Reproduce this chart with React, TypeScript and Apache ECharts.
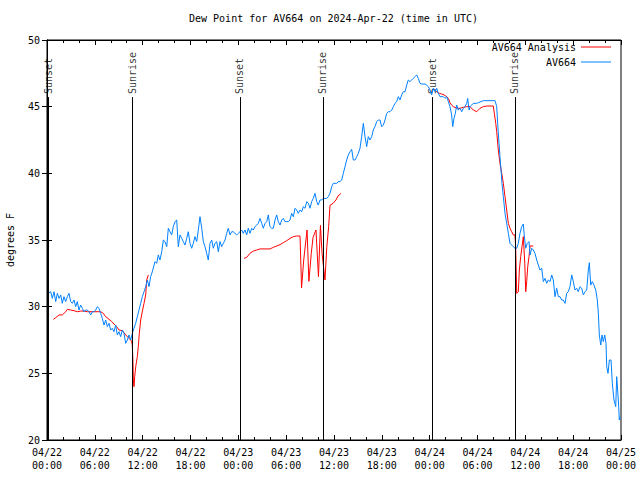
import React, { useEffect, useRef } from "react";
import * as echarts from "echarts";

// Hours since 2024-04-22 00:00 UTC
const blueHours = [
  0.13, 0.46, 0.67, 0.88, 1.09, 1.3, 1.51, 1.72, 1.92, 2.13, 2.34, 2.55, 2.76, 2.97, 3.18, 3.39, 3.6, 3.8, 4.01, 4.22,
  4.43, 4.64, 4.85, 5.06, 5.27, 5.48, 5.69, 5.9, 6.1, 6.31, 6.52, 6.73, 6.94, 7.15, 7.36, 7.57, 7.78, 7.99, 8.2, 8.4,
  8.61, 8.82, 9.03, 9.24, 9.45, 9.66, 9.87, 10.08, 10.29, 10.5, 10.7, 10.91, 11.12, 11.33, 11.54, 11.75, 11.96, 12.17, 12.38, 12.59,
  12.8, 13.0, 13.2, 13.55, 13.76, 13.96, 14.17, 14.39, 14.59, 14.8, 15.02, 15.22, 15.43, 15.64, 15.84, 16.06, 16.27, 16.47, 16.68, 16.9,
  17.1, 17.31, 17.52, 17.72, 17.94, 18.15, 18.35, 18.56, 18.78, 18.98, 19.19, 19.41, 19.61, 19.82, 20.03, 20.23, 20.45, 20.66, 20.86, 21.07,
  21.29, 21.49, 21.7, 21.91, 22.12, 22.33, 22.54, 22.74, 22.96, 23.17, 23.37, 23.58, 23.8, 24.0, 24.21, 24.42, 24.62, 24.84, 25.05, 25.25,
  25.46, 25.68, 25.88, 26.09, 26.3, 26.5, 26.72, 26.93, 27.13, 27.35, 27.56, 27.76, 27.97, 28.19, 28.39, 28.6, 28.81, 29.01, 29.23, 29.44,
  29.64, 29.85, 30.07, 30.27, 30.48, 30.69, 30.9, 31.11, 31.32, 31.52, 31.74, 31.95, 32.15, 32.36, 32.58, 32.78, 32.99, 33.2, 33.4, 33.62,
  33.83, 34.03, 34.24, 34.46, 34.66, 34.87, 35.09, 35.29, 35.5, 35.71, 35.91, 36.13, 36.34, 36.54, 36.75, 36.97, 37.17, 37.38, 37.59, 37.79,
  38.01, 38.22, 38.42, 38.63, 38.85, 39.05, 39.26, 39.47, 39.68, 39.89, 40.1, 40.3, 40.52, 40.73, 40.93, 41.14, 41.36, 41.56, 41.77, 41.98,
  42.19, 42.4, 42.61, 42.81, 43.03, 43.24, 43.44, 43.65, 43.87, 44.07, 44.28, 44.49, 44.69, 44.91, 45.12, 45.32, 45.53, 45.75, 45.95, 46.16,
  46.37, 46.57, 46.79, 47.0, 47.42, 47.63, 47.83, 48.04, 48.25, 48.45, 48.67, 48.88, 49.08, 49.3, 49.71, 49.92, 50.14, 50.34, 50.55, 50.76,
  50.89, 51.05, 51.22, 51.39, 51.59, 51.81, 52.02, 52.22, 52.43, 52.65, 52.77, 52.94, 53.06, 53.27, 53.47, 53.9, 54.1, 54.73, 56.2, 56.41,
  56.53, 56.7, 56.82, 56.95, 57.07, 57.24, 57.45, 57.66, 57.87, 58.08, 58.29, 58.49, 58.7, 58.92, 59.12, 59.33, 59.54, 59.75, 59.87, 60.05,
  60.25, 60.46, 60.59, 60.8, 61.0, 61.21, 61.43, 61.63, 61.84, 62.05, 62.26, 62.47, 62.68, 62.88, 63.1, 63.31, 63.51, 63.72, 63.93, 64.14,
  64.35, 64.56, 64.76, 64.98, 65.19, 65.39, 65.6, 65.82, 66.02, 66.23, 66.44, 66.64, 66.86, 67.07, 67.28, 67.49, 67.7, 67.9, 68.03, 68.2,
  68.4, 68.61, 68.83, 69.03, 69.16, 69.28, 69.46, 69.62, 69.78, 69.96, 70.12, 70.21, 70.37, 70.54, 70.75, 70.91, 71.12, 71.34, 71.46, 71.58,
  71.71, 71.79, 71.91,
];
const blueValues = [
  31.0, 31.12, 30.62, 31.12, 30.38, 31.0, 30.62, 30.88, 30.25, 30.75, 30.38, 30.75, 31.0, 30.38, 30.25, 30.5, 30.0, 30.38, 29.75, 30.12,
  29.88, 29.62, 29.75, 29.75, 29.62, 29.38, 29.62, 29.62, 29.75, 30.0, 29.88, 29.5, 29.12, 28.62, 29.0, 28.5, 28.75, 28.25, 28.38, 28.12,
  28.62, 27.88, 28.12, 27.75, 28.25, 28.0, 27.25, 27.5, 27.88, 27.5, 28.0, 28.38, 28.75, 29.25, 29.75, 30.25, 30.75, 31.12, 31.5, 32.0,
  31.5, 32.25, 32.6, 33.38, 33.25, 33.88, 33.5, 34.12, 35.0, 34.88, 34.5, 35.88, 35.62, 35.38, 36.0, 36.38, 36.5, 34.5, 35.38, 35.12,
  34.88, 34.62, 35.12, 35.62, 34.75, 34.38, 34.75, 35.25, 34.88, 35.75, 36.75, 35.88, 34.88, 34.5, 34.0, 33.5, 34.75, 35.0, 34.38, 34.75,
  34.88, 34.12, 34.88, 34.5, 34.75, 35.0, 35.5, 35.88, 35.38, 35.62, 35.62, 35.5, 35.38, 35.5, 35.62, 35.75, 35.5, 35.75, 35.38, 35.88,
  35.5, 35.88, 35.75, 36.0, 36.12, 36.25, 36.62, 36.25, 35.88, 36.25, 36.38, 36.88, 36.0, 35.88, 35.88, 36.5, 36.88, 36.38, 36.12, 36.5,
  36.62, 36.38, 36.38, 36.38, 36.5, 37.0, 36.75, 37.38, 37.25, 37.0, 37.25, 37.12, 37.5, 37.38, 37.88, 37.75, 37.38, 37.88, 38.12, 38.5,
  37.88, 37.62, 38.0, 38.0, 38.12, 38.12, 38.12, 38.25, 38.5, 39.0, 39.25, 39.25, 39.25, 39.38, 39.38, 39.5, 40.0, 40.5, 41.0, 41.38,
  41.62, 41.8, 41.0, 41.0, 41.25, 41.5, 41.88, 42.75, 43.75, 42.75, 42.0, 42.75, 42.5, 42.75, 43.25, 43.5, 43.88, 44.0, 44.0, 43.5,
  43.62, 44.0, 44.5, 44.62, 44.62, 44.75, 45.0, 45.25, 45.38, 45.75, 45.5, 45.88, 46.12, 46.12, 46.62, 47.0, 46.88, 47.0, 47.12, 47.25,
  47.38, 47.12, 46.75, 46.7, 46.7, 46.62, 46.5, 46.25, 45.88, 46.38, 46.12, 46.38, 46.0, 45.75, 45.75, 45.62, 45.75, 45.38, 45.0, 44.38,
  43.5, 44.12, 44.5, 45.12, 44.75, 44.88, 44.62, 44.88, 45.0, 45.25, 45.62, 44.75, 45.0, 45.12, 45.25, 45.25, 45.3, 45.45, 45.45, 45.0,
  43.75, 42.25, 41.25, 40.25, 39.25, 38.25, 37.0, 36.25, 35.5, 34.75, 34.62, 34.5, 34.38, 34.38, 34.75, 35.5, 36.0, 36.2, 35.3, 34.38,
  34.75, 34.88, 33.88, 34.38, 34.25, 34.0, 33.5, 33.12, 32.75, 32.88, 31.88, 32.12, 31.75, 32.0, 31.88, 32.38, 32.0, 30.75, 31.38, 30.75,
  30.75, 30.5, 30.5, 30.25, 31.0, 31.12, 31.5, 32.38, 31.88, 31.25, 31.38, 31.12, 31.5, 31.38, 30.88, 31.12, 31.25, 32.75, 33.3, 31.62,
  31.88, 31.62, 31.25, 30.5, 29.5, 27.88, 27.12, 27.88, 27.38, 27.88, 27.25, 25.5, 25.0, 26.0, 26.0, 24.25, 23.0, 22.5, 24.75, 23.75,
  22.5, 21.5, 21.75,
];

// null marks a gap in the analysis line
const redHours = [
  0.79, 1.09, 1.51, 1.92, 2.35, 2.55, 2.97, 3.39, 3.8, 4.23, 4.64, 5.06, 5.9, 6.74, 7.06, 7.36, 7.78, 8.12, 8.4, 8.74,
  9.03, 9.45, 9.66, 9.87, 10.07, 10.29, 10.5, 10.62, 10.7, 10.79, 10.83, 10.91, 11.0, 11.13, 11.33, 11.45, 11.58, 11.75, 11.95, 12.17,
  12.38, 12.51, 12.71, 18.0,
  24.71, 25.05, 25.46, 25.88, 26.3, 26.72, 27.97, 28.39, 28.81, 29.23, 29.64, 30.07, 30.48, 30.9, 31.32, 31.74, 31.93, 32.2, 32.62, 32.85,
  33.15, 33.37, 33.74, 34.05, 34.3, 34.5, 34.87, 35.1, 35.33, 35.5, 35.88, 36.25, 36.5, 36.88, 42.0,
  48.54, 48.88, 49.21, 49.51, 49.8, 50.14, 50.34, 50.55, 50.76, 50.97, 51.18, 51.39, 51.81, 52.22, 52.65, 53.06, 53.47, 53.9, 54.1, 54.31,
  54.73, 55.16, 55.98, 56.11, 56.29, 56.41, 56.61, 56.82, 57.04, 57.24, 57.45, 57.66, 57.87, 58.08, 58.29, 58.49, 58.7, 58.79, 58.92, 59.12,
  59.25, 59.42, 59.58, 59.75, 59.93, 60.05, 60.17, 60.3, 60.46, 60.59, 61.0,
];
const redValues = [
  29.05, 29.17, 29.38, 29.38, 29.62, 29.8, 29.75, 29.7, 29.62, 29.67, 29.67, 29.62, 29.62, 29.62, 29.5, 29.25, 29.05, 28.88, 28.7, 28.5,
  28.25, 28.2, 28.05, 27.88, 27.75, 27.62, 27.5, 27.38, 27.12, 25.75, 24.5, 24.0, 24.75, 25.5, 26.25, 27.0, 28.0, 29.0, 29.62, 30.25,
  30.88, 32.0, 32.38, null,
  33.62, 33.7, 34.0, 34.17, 34.25, 34.33, 34.33, 34.45, 34.55, 34.65, 34.8, 34.95, 35.12, 35.25, 35.3, 35.3, 31.4, 33.5, 35.75, 31.9,
  34.0, 35.2, 35.75, 32.25, 36.1, 34.0, 32.0, 34.5, 36.0, 37.6, 37.75, 38.0, 38.3, 38.5, null,
  46.3, 46.12, 46.0, 45.95, 45.88, 45.75, 45.62, 45.3, 45.12, 45.0, 44.95, 44.88, 44.88, 44.95, 45.0, 45.0, 44.75, 44.62, 44.75, 44.88,
  45.0, 45.05, 45.05, 44.5, 43.75, 43.12, 41.75, 40.75, 40.0, 39.25, 38.25, 37.25, 36.25, 35.88, 35.62, 35.38, 35.38, 34.5, 31.0, 31.12,
  32.75, 33.75, 34.5, 35.25, 33.25, 31.12, 31.88, 33.0, 33.75, 34.55, 34.55,
];

const sunsetHours = [0.13, 24.2, 48.3];
const sunriseHours = [10.7, 34.6, 58.7];
const markerTop = 45.72;

const mono = "'DejaVu Sans Mono', 'Liberation Mono', monospace";

export default function App() {
  const ref = useRef<HTMLDivElement>(null);
  useEffect(() => {
    if (!ref.current) return;
    const chart = echarts.init(ref.current, null, { renderer: "svg" });
    const blueData = blueHours.map((h, i) => [h, blueValues[i]]);
    const redData = redHours.map((h, i) => [h, redValues[i] == null ? "-" : redValues[i]]);
    const events = [
      ...sunsetHours.map((h) => ({ h, name: "Sunset" })),
      ...sunriseHours.map((h) => ({ h, name: "Sunrise" })),
    ];
    const fmt = (v: number) => {
      const day = 22 + Math.floor(v / 24);
      const hr = Math.round(v % 24);
      return "04/" + day + "\n" + (hr < 10 ? "0" : "") + hr + ":00";
    };
    const txt = { fontFamily: mono, fontSize: 10, color: "#000" };
    const xCommon = {
      type: "value",
      min: 0,
      max: 72,
      interval: 6,
      axisLine: { show: true, lineStyle: { color: "#000", width: 1 } },
      axisTick: { show: true, inside: true, length: 5, lineStyle: { color: "#000" } },
      minorTick: { show: true, splitNumber: 3, length: 3, lineStyle: { color: "#000" } },
      splitLine: { show: false },
      minorSplitLine: { show: false },
    };
    const yCommon = {
      type: "value",
      min: 20,
      max: 50,
      interval: 5,
      axisLine: { show: true, lineStyle: { color: "#000", width: 1 } },
      axisTick: { show: true, inside: true, length: 5, lineStyle: { color: "#000" } },
      splitLine: { show: false },
    };
    chart.setOption({
      animation: false,
      backgroundColor: "#fff",
      textStyle: txt,
      title: {
        text: "Dew Point for AV664 on 2024-Apr-22 (time in UTC)",
        left: 189,
        top: 13,
        padding: 0,
        textStyle: { ...txt, fontWeight: "normal" },
      },
      legend: {
        orient: "vertical",
        right: 29,
        top: 41,
        padding: 0,
        align: "right",
        itemWidth: 30,
        itemHeight: 1,
        itemGap: 3,
        icon: "rect",
        textStyle: { ...txt, lineHeight: 12 },
        data: ["AV664 Analysis", "AV664"],
      },
      grid: {
        left: 47,
        right: 19,
        top: 40,
        bottom: 40,
        containLabel: false,
        outerBoundsMode: "none",
        show: true,
        borderColor: "#000",
        borderWidth: 1,
        backgroundColor: "transparent",
      },
      xAxis: [
        { ...xCommon, position: "bottom", axisLabel: { ...txt, margin: 6, lineHeight: 13, formatter: fmt } },
        { ...xCommon, position: "top", axisLabel: { show: false } },
      ],
      yAxis: [
        {
          ...yCommon,
          position: "left",
          name: "degrees F",
          nameLocation: "middle",
          nameGap: 32,
          nameTextStyle: txt,
          axisLabel: { ...txt, margin: 7 },
        },
        { ...yCommon, position: "right", axisLabel: { show: false } },
      ],
      series: [
        {
          name: "AV664 Analysis",
          type: "line",
          data: redData,
          showSymbol: false,
          symbol: "none",
          connectNulls: false,
          color: "#ff0000",
          lineStyle: { color: "#ff0000", width: 1 },
          silent: true,
        },
        {
          name: "AV664",
          type: "line",
          data: blueData,
          showSymbol: false,
          symbol: "none",
          color: "#0080ff",
          lineStyle: { color: "#0080ff", width: 1 },
          silent: true,
          markLine: {
            silent: true,
            symbol: "none",
            label: { show: false },
            lineStyle: { color: "#000", width: 1, type: "solid" },
            data: events.map((e) => [{ coord: [e.h, 20] }, { coord: [e.h, markerTop] }]),
          },
        },
        {
          name: "events",
          type: "scatter",
          data: events.map((e) => ({ value: [e.h, markerTop], name: e.name })),
          symbolSize: 0,
          silent: true,
          label: {
            show: true,
            formatter: (p: any) => p.name,
            position: "top",
            distance: 3,
            rotate: 90,
            align: "left",
            verticalAlign: "middle",
            ...txt,
          },
        },
      ],
    });
    return () => chart.dispose();
  }, []);
  return <div ref={ref} style={{ position: "fixed", left: 0, top: 0, width: 640, height: 480 }} />;
}
